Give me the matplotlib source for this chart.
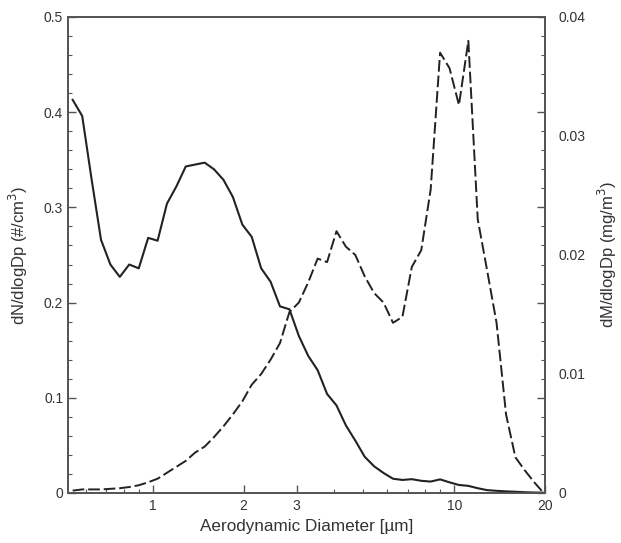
import numpy as np
import matplotlib
matplotlib.use("Agg")
import matplotlib.pyplot as plt
from matplotlib.ticker import FixedLocator, NullFormatter, MultipleLocator

plt.rcParams['font.family'] = ['Liberation Sans', 'DejaVu Sans']

# APS channel midpoints (um)
diam = [0.542, 0.583, 0.626, 0.673, 0.723, 0.777, 0.835, 0.898, 0.965, 1.037,
        1.114, 1.197, 1.286, 1.382, 1.486, 1.596, 1.715, 1.843, 1.981, 2.129,
        2.288, 2.458, 2.642, 2.839, 3.051, 3.278, 3.523, 3.786, 4.068, 4.371,
        4.698, 5.048, 5.425, 5.829, 6.264, 6.732, 7.234, 7.774, 8.354, 8.977,
        9.647, 10.37, 11.14, 11.97, 12.86, 13.82, 14.86, 15.96, 17.15, 18.43,
        19.81]

# number distribution dN/dlogDp (#/cm3)
dN = [0.413, 0.396, 0.330, 0.266, 0.240, 0.227, 0.240, 0.236, 0.268, 0.265,
      0.304, 0.322, 0.343, 0.345, 0.347, 0.340, 0.329, 0.311, 0.282, 0.269,
      0.236, 0.222, 0.196, 0.193, 0.165, 0.144, 0.129, 0.104, 0.092, 0.071,
      0.055, 0.038, 0.028, 0.021, 0.015, 0.0137, 0.0145, 0.0128, 0.012, 0.0143,
      0.0112, 0.0084, 0.0075, 0.005, 0.003, 0.0023, 0.0017, 0.0013, 0.0008, 0.0005,
      0.0003]

# mass distribution dM/dlogDp (mg/m3)
dM = [0.0002, 0.0003, 0.0003, 0.0003, 0.00035, 0.0004, 0.0005, 0.00065, 0.0009, 0.0012,
      0.0017, 0.0022, 0.0027, 0.0034, 0.0039, 0.0047, 0.0056, 0.0066, 0.0077, 0.0091,
      0.0100, 0.0112, 0.0126, 0.0152, 0.0160, 0.0177, 0.0197, 0.0194, 0.0220, 0.0207,
      0.0200, 0.0182, 0.0168, 0.0160, 0.0143, 0.0148, 0.0190, 0.0204, 0.0255, 0.0370,
      0.0357, 0.0326, 0.0380, 0.0230, 0.0187, 0.0143, 0.0066, 0.0030, 0.0019, 0.0009,
      0.0000]

xticks = [1, 2, 3, 10, 20]
xticklabels = ["1", "2", "3", "10", "20"]

txt = '#333333'
spine = '#555555'

fig = plt.figure(figsize=(6.21, 5.43), dpi=100)
ax = fig.add_axes([0.1095, 0.0921, 0.768, 0.8766])
ax2 = ax.twinx()

ax.plot(diam, dN, color='#222222', lw=1.5, zorder=3)
ax2.plot(diam, dM, color='#222222', lw=1.4, dashes=(6, 2))

ax.set_xscale('log')
ax.set_xlim(0.523, 20)
ax.set_ylim(0, 0.5)
ax2.set_ylim(0, 0.04)

ax.xaxis.set_major_locator(FixedLocator(xticks))
ax.set_xticklabels(xticklabels)
ax.xaxis.set_minor_locator(FixedLocator([0.6, 0.7, 0.8, 0.9, 4, 5, 6, 7, 8, 9]))
ax.xaxis.set_minor_formatter(NullFormatter())

ax.yaxis.set_major_locator(MultipleLocator(0.1))
ax.yaxis.set_minor_locator(MultipleLocator(0.02))
ax.set_yticks([0, 0.1, 0.2, 0.3, 0.4, 0.5])
ax.set_yticklabels(["0", "0.1", "0.2", "0.3", "0.4", "0.5"])

ax2.set_yticks([0, 0.01, 0.02, 0.03, 0.04])
ax2.set_yticklabels(["0", "0.01", "0.02", "0.03", "0.04"])

ax.tick_params(which='both', direction='in', top=False, right=True,
               colors=spine, labelcolor=txt, labelsize=10)
ax.tick_params(which='major', length=6, width=1)
ax.tick_params(which='minor', length=3, width=0.8)
ax.tick_params(axis='x', which='major', pad=4)
ax2.tick_params(which='both', direction='in', length=0, pad=10,
                labelcolor=txt, labelsize=10)

for a in (ax, ax2):
    for s in a.spines.values():
        s.set_color(spine)
        s.set_linewidth(1.3)

ax.set_xlabel("Aerodynamic Diameter [\u00b5m]", fontsize=12.3, color=txt, labelpad=5)
ax.set_ylabel("dN/dlogDp (#/cm$^3$)", fontsize=12, color=txt, labelpad=10)
ax2.set_ylabel("dM/dlogDp (mg/m$^3$)", fontsize=12, color=txt, labelpad=7)

fig.savefig("out.png", dpi=100)
